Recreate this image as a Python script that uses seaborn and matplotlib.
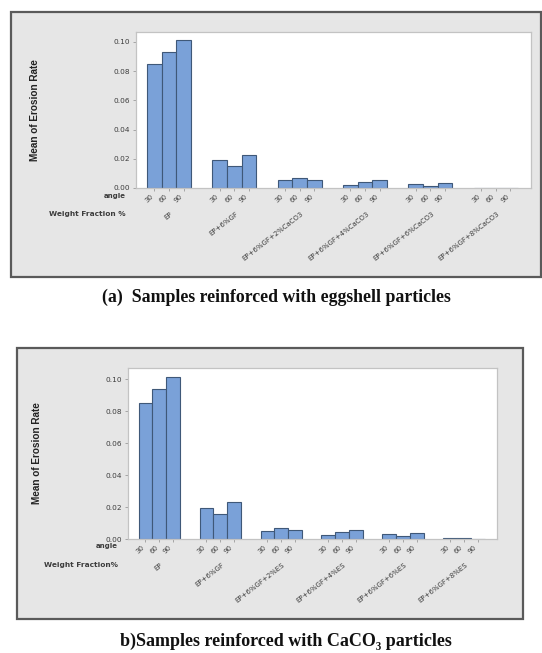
import numpy as np
import pandas as pd
import matplotlib
matplotlib.use("Agg")
import matplotlib.pyplot as plt
import matplotlib.transforms as mtransforms
from matplotlib.patches import Rectangle
import seaborn as sns

sns.set_theme(style="white")
plt.rcParams['font.family'] = ['DejaVu Sans']

angles = ["30", "60", "90"]
groups_a = ["EP", "EP+6%GF", "EP+6%GF+2%CaCO3", "EP+6%GF+4%CaCO3",
            "EP+6%GF+6%CaCO3", "EP+6%GF+8%CaCO3"]
groups_b = ["EP", "EP+6%GF", "EP+6%GF+2%ES", "EP+6%GF+4%ES",
            "EP+6%GF+6%ES", "EP+6%GF+8%ES"]
values_a = [
    [0.0849, 0.0929, 0.1011],
    [0.0190, 0.0153, 0.0226],
    [0.0053, 0.0068, 0.0057],
    [0.0020, 0.0039, 0.0057],
    [0.0027, 0.0016, 0.0034],
    [0.0003, 0.0003, 0.0003],
]
values_b = [
    [0.0851, 0.0935, 0.1012],
    [0.0191, 0.0154, 0.0229],
    [0.0050, 0.0067, 0.0057],
    [0.0023, 0.0045, 0.0059],
    [0.0029, 0.0017, 0.0037],
    [0.0004, 0.0006, 0.0003],
]
yticks = [0.00, 0.02, 0.04, 0.06, 0.08, 0.10]
caption_a = "(a)  Samples reinforced with eggshell particles"
caption_b = "b)Samples reinforced with CaCO\u2083 particles"

W, H = 542, 653
fig = plt.figure(figsize=(W / 100, H / 100), dpi=100)
fig.patch.set_facecolor("white")

BAR = "#7aa1d8"
EDGE = "#3f5878"
TXT = "#3c3c3c"
BG = "#e6e6e6"


def px_rect(x0, y0, x1, y1):
    return [x0 / W, 1 - y1 / H, (x1 - x0) / W, (y1 - y0) / H]


def panel(frame, axbox, groups, values, wf_label, lab_x, angle_y, wf_y, ylab_xy, ylim_top):
    fx0, fy0, fx1, fy1 = frame
    fig.patches.append(Rectangle((fx0 / W, 1 - fy1 / H), (fx1 - fx0) / W, (fy1 - fy0) / H,
                                 transform=fig.transFigure, facecolor=BG,
                                 edgecolor="#5a5a5a", linewidth=1.6, zorder=-5))
    ax = fig.add_axes(px_rect(*axbox))
    ax.set_zorder(2)
    rows = []
    for g, vals in zip(groups, values):
        for a, v in zip(angles, vals):
            rows.append({"group": g, "angle": a, "rate": v})
    df = pd.DataFrame(rows)
    sns.barplot(data=df, x="group", y="rate", hue="angle", order=groups,
                hue_order=angles, palette=[BAR] * 3, width=0.675, gap=0,
                edgecolor=EDGE, linewidth=0.8, errorbar=None, legend=False,
                saturation=1, ax=ax)
    ax.set_facecolor("white")
    ax.set_ylim(0, ylim_top)
    ax.set_xlim(-0.51, len(groups) - 0.46)
    ax.set_yticks(yticks)
    ax.set_yticklabels([f"{t:.2f}" for t in yticks], fontsize=5.3, color=TXT)
    centers = sorted(p.get_x() + p.get_width() / 2 for p in ax.patches)
    ax.set_xticks(centers)
    ax.set_xticklabels(angles * len(groups), fontsize=5.0, color=TXT,
                       rotation=45, ha="right", rotation_mode="default")
    ax.tick_params(axis="both", length=2.5, width=0.6, color="#9a9a9a", pad=1.5,
                   bottom=True, left=True)
    for s in ax.spines.values():
        s.set_color("#c3c3c3")
        s.set_linewidth(0.9)
    ax.set_xlabel("")
    ax.set_ylabel("")
    trans = mtransforms.blended_transform_factory(ax.transData, fig.transFigure)
    for i, g in enumerate(groups):
        fig.text(i + 0.08, 1 - wf_y / H, g, fontsize=5.0, color=TXT, rotation=38,
                 ha="right", va="top", transform=trans)
    fig.text(lab_x / W, 1 - angle_y / H, "angle", fontsize=5.0, color=TXT,
             fontweight="bold", ha="right", va="center")
    fig.text(lab_x / W, 1 - wf_y / H, wf_label, fontsize=5.3, color=TXT,
             fontweight="bold", ha="right", va="top")
    fig.text(ylab_xy[0] / W, 1 - ylab_xy[1] / H, "Mean of Erosion Rate",
             family=["Liberation Sans", "DejaVu Sans"], fontweight="bold",
             fontsize=7.2, color="#222222", rotation=90, ha="center", va="center")
    return ax


panel((11, 12, 541, 277), (135.6, 32.3, 531, 188), groups_a, values_a,
      "Weight Fraction %", 126, 196, 211, (35, 110), 0.1066)
panel((17, 348, 523, 619), (128, 368, 497, 539), groups_b, values_b,
      "Weight Fraction%", 118, 546, 562, (37, 453), 0.1069)

fig.text(276 / W, 1 - 297 / H, caption_a, family=["Liberation Serif", "DejaVu Serif"],
         fontweight="bold", fontsize=12.8, ha="center", va="center", color="#111111")
fig.text(286 / W, 1 - 641 / H, caption_b, family=["Liberation Serif", "DejaVu Serif"],
         fontweight="bold", fontsize=13, ha="center", va="center", color="#111111")

fig.savefig("out.png", dpi=100)
